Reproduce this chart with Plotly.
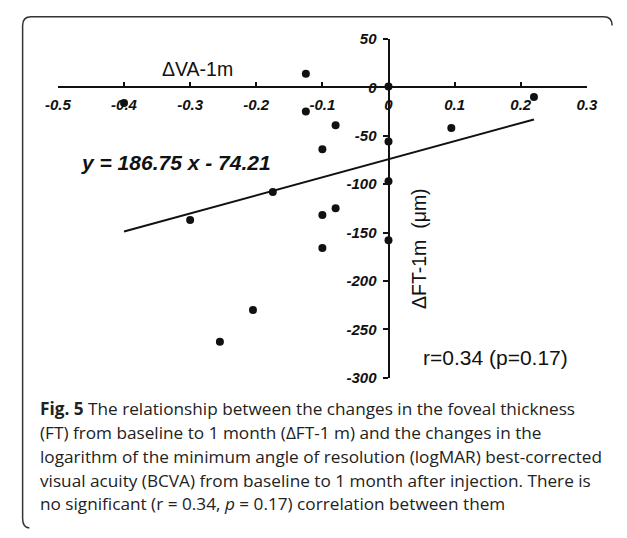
import plotly.graph_objects as go

W, H = 627, 538

# ---- data ----
va_change = [-0.40, -0.30, -0.255, -0.205, -0.175, -0.125, -0.125, -0.10, -0.08,
             -0.10, -0.08, -0.10, 0.0, 0.0, 0.0, 0.0, 0.095, 0.22]
ft_change = [-16, -137, -263, -230, -108, 14, -25, -64, -39,
             -132, -125, -166, 1, -56, -97, -158, -42, -10]
fit_x = [-0.40, 0.22]
fit_y = [-149.0, -33.1]

x_ticks = [-0.5, -0.4, -0.3, -0.2, -0.1, 0, 0.1, 0.2, 0.3]
x_ticktext = ["-0.5", "-0.4", "-0.3", "-0.2", "-0.1", "0", "0.1", "0.2", "0.3"]
y_ticks = [50, 0, -50, -100, -150, -200, -250, -300]
y_ticktext = ["50", "0", "-50", "-100", "-150", "-200", "-250", "-300"]

x_range = [-0.5, 0.3]
y_range = [-300, 50]

caption_lines = [
    "<b>Fig. 5</b> The relationship between the changes in the foveal thickness",
    "(FT) from baseline to 1 month (ΔFT-1 m) and the changes in the",
    "logarithm of the minimum angle of resolution (logMAR) best-corrected",
    "visual acuity (BCVA) from baseline to 1 month after injection. There is",
    "no significant (r = 0.34, <i>p</i> = 0.17) correlation between them",
]


def px(x):
    return x / W


def py(y):
    return 1 - y / H


# plot area in pixels
x_dom = [px(46.7), px(596.7)]
y_dom = [py(380.7), py(31)]

# paper position where the other axis crosses zero
x_axis_pos = y_dom[0] + (0 - y_range[0]) / (y_range[1] - y_range[0]) * (y_dom[1] - y_dom[0])
y_axis_pos = x_dom[0] + (0 - x_range[0]) / (x_range[1] - x_range[0]) * (x_dom[1] - x_dom[0])

tickfont = dict(family="Arial, Liberation Sans", size=15, color="#111",
                weight="bold", style="italic")

fig = go.Figure()
fig.add_trace(go.Scatter(x=fit_x, y=fit_y, mode="lines",
                         line=dict(color="#111", width=2), showlegend=False,
                         hoverinfo="skip"))
fig.add_trace(go.Scatter(x=va_change, y=ft_change, mode="markers",
                         marker=dict(color="#111", size=8), showlegend=False))

fig.update_layout(
    width=W, height=H,
    margin=dict(l=0, r=0, t=0, b=0),
    paper_bgcolor="white", plot_bgcolor="white",
    xaxis=dict(range=x_range, domain=x_dom, anchor="free", position=x_axis_pos,
               showgrid=False, zeroline=False, showline=True, linewidth=2,
               linecolor="#111", ticks="inside", ticklen=4, tickwidth=2,
               tickcolor="#111", tickvals=x_ticks, ticktext=x_ticktext,
               tickfont=tickfont, ticklabelstandoff=4),
    yaxis=dict(range=y_range, domain=y_dom, anchor="free", position=y_axis_pos,
               side="left", showgrid=False, zeroline=False, showline=True,
               linewidth=2, linecolor="#111", ticks="outside", ticklen=5,
               tickwidth=2, tickcolor="#111", tickvals=y_ticks,
               ticktext=y_ticktext, tickfont=tickfont, ticklabelstandoff=3),
)

ann = []
ann.append(dict(x=px(191.5), y=py(62), xref="paper", yref="paper",
                text="ΔVA-1m", showarrow=False, xanchor="center", yanchor="middle",
                font=dict(family="Arial, Liberation Sans", size=19.5, color="#111")))
ann.append(dict(x=px(422), y=py(247), xref="paper", yref="paper",
                text="ΔFT-1m  (μm)", showarrow=False, textangle=-90,
                xanchor="center", yanchor="middle",
                font=dict(family="Arial, Liberation Sans", size=19.5, color="#111")))
ann.append(dict(x=px(502), y=py(360), xref="paper", yref="paper",
                text="r=0.34 (p=0.17)", showarrow=False, xanchor="center",
                yanchor="middle",
                font=dict(family="Arial, Liberation Sans", size=21, color="#111")))
ann.append(dict(x=px(169), y=py(158), xref="paper", yref="paper",
                text="y = 186.75 x - 74.21", showarrow=False, xanchor="center",
                yanchor="middle",
                font=dict(family="Arial, Liberation Sans", size=21, color="#111",
                          weight="bold", style="italic")))

baselines = [418, 443, 467.5, 492, 516.5]
for line, b in zip(caption_lines, baselines):
    ann.append(dict(x=px(26), y=py(b - 5.5), xref="paper", yref="paper",
                    text=line, showarrow=False, xanchor="left", yanchor="middle",
                    font=dict(family="Open Sans", size=17.2, color="#222")))
fig.update_layout(annotations=ann)

# rounded frame
def P(x, y):
    return f"{px(x):.5f},{py(y):.5f}"

path = (f"M {P(623, 17)} Q {P(623, 8)} {P(614, 8)} L {P(19, 8)} "
        f"Q {P(10, 8)} {P(10, 17)} L {P(10, 526)} Q {P(10, 535)} {P(17, 536)}")
fig.add_shape(type="path", path=path, xref="paper", yref="paper",
              line=dict(color="#333", width=1.5))

fig.write_html("out.html")
